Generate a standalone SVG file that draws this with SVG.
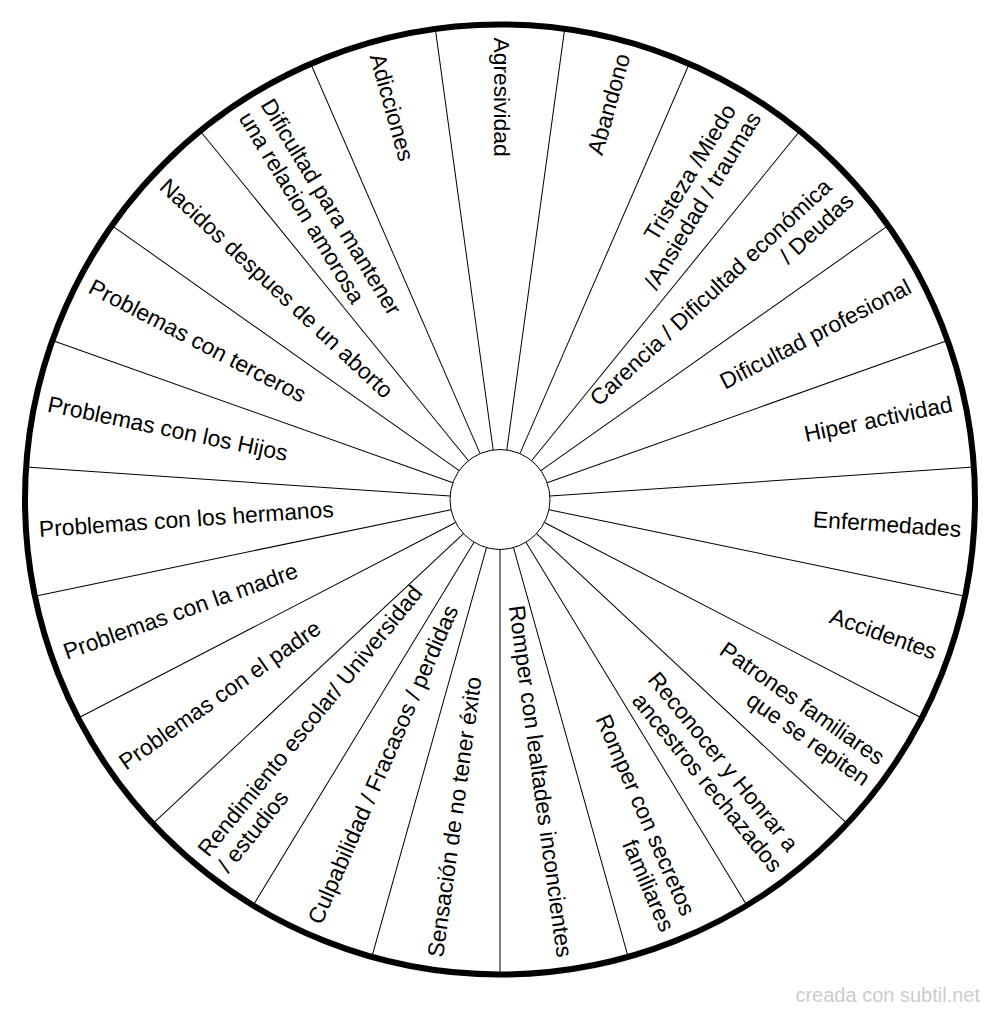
<svg xmlns="http://www.w3.org/2000/svg" width="1000" height="1016" viewBox="0 0 1000 1016">
<style>
.lbl{font-family:"Liberation Sans",Arial,sans-serif;font-size:22.8px;fill:#000}
.r{text-anchor:end}
.l{text-anchor:start}
.sp{stroke:#000;stroke-width:1;fill:none}
.wm{font-family:"Liberation Sans",Arial,sans-serif;font-size:20px;fill:#cccccc;text-anchor:end}
</style>
<rect width="1000" height="1016" fill="#fff"/>
<g id="connectors">
<line class="sp" x1="500" y1="449.5" x2="500" y2="24.5" transform="rotate(7.826 500 499.5)"/>
<line class="sp" x1="500" y1="449.5" x2="500" y2="24.5" transform="rotate(23.478 500 499.5)"/>
<line class="sp" x1="500" y1="449.5" x2="500" y2="24.5" transform="rotate(39.130 500 499.5)"/>
<line class="sp" x1="500" y1="449.5" x2="500" y2="24.5" transform="rotate(54.783 500 499.5)"/>
<line class="sp" x1="500" y1="449.5" x2="500" y2="24.5" transform="rotate(70.435 500 499.5)"/>
<line class="sp" x1="500" y1="449.5" x2="500" y2="24.5" transform="rotate(86.087 500 499.5)"/>
<line class="sp" x1="500" y1="449.5" x2="500" y2="24.5" transform="rotate(101.739 500 499.5)"/>
<line class="sp" x1="500" y1="449.5" x2="500" y2="24.5" transform="rotate(117.391 500 499.5)"/>
<line class="sp" x1="500" y1="449.5" x2="500" y2="24.5" transform="rotate(133.043 500 499.5)"/>
<line class="sp" x1="500" y1="449.5" x2="500" y2="24.5" transform="rotate(148.696 500 499.5)"/>
<line class="sp" x1="500" y1="449.5" x2="500" y2="24.5" transform="rotate(164.348 500 499.5)"/>
<line class="sp" x1="500" y1="449.5" x2="500" y2="24.5" transform="rotate(180 500 499.5)"/>
<line class="sp" x1="500" y1="449.5" x2="500" y2="24.5" transform="rotate(195.652 500 499.5)"/>
<line class="sp" x1="500" y1="449.5" x2="500" y2="24.5" transform="rotate(211.304 500 499.5)"/>
<line class="sp" x1="500" y1="449.5" x2="500" y2="24.5" transform="rotate(226.957 500 499.5)"/>
<line class="sp" x1="500" y1="449.5" x2="500" y2="24.5" transform="rotate(242.609 500 499.5)"/>
<line class="sp" x1="500" y1="449.5" x2="500" y2="24.5" transform="rotate(258.261 500 499.5)"/>
<line class="sp" x1="500" y1="449.5" x2="500" y2="24.5" transform="rotate(273.913 500 499.5)"/>
<line class="sp" x1="500" y1="449.5" x2="500" y2="24.5" transform="rotate(289.565 500 499.5)"/>
<line class="sp" x1="500" y1="449.5" x2="500" y2="24.5" transform="rotate(305.217 500 499.5)"/>
<line class="sp" x1="500" y1="449.5" x2="500" y2="24.5" transform="rotate(320.870 500 499.5)"/>
<line class="sp" x1="500" y1="449.5" x2="500" y2="24.5" transform="rotate(336.522 500 499.5)"/>
<line class="sp" x1="500" y1="449.5" x2="500" y2="24.5" transform="rotate(352.174 500 499.5)"/>
</g>
<g id="wheel">
<circle cx="500" cy="499.5" r="475" fill="none" stroke="#000" stroke-width="6"/>
<circle cx="500" cy="499.5" r="50" fill="#fff" stroke="#000" stroke-width="1"/>
</g>
<g id="n00" transform="translate(500 499.5) rotate(90)"><text class="lbl l" x="-462" y="6">Agresividad</text></g>
<g id="n01" transform="translate(500 499.5) rotate(-74.348)"><text class="lbl r" x="462" y="6">Abandono</text></g>
<g id="n02" transform="translate(500 499.5) rotate(-58.696)"><text class="lbl r" x="455.7" y="0">Tristeza /Miedo</text><text class="lbl r" x="462" y="25.5">/Ansiedad / traumas</text></g>
<g id="n03" transform="translate(500 499.5) rotate(-43.043)"><text class="lbl r" x="455.7" y="0">Carencia / Dificultad económica</text><text class="lbl r" x="462" y="25.5">/ Deudas</text></g>
<g id="n04" transform="translate(500 499.5) rotate(-27.391)"><text class="lbl r" x="462" y="6">Dificultad profesional</text></g>
<g id="n05" transform="translate(500 499.5) rotate(-11.739)"><text class="lbl r" x="462" y="6">Hiper actividad</text></g>
<g id="n06" transform="translate(500 499.5) rotate(3.913)"><text class="lbl r" x="462" y="6">Enfermedades</text></g>
<g id="n07" transform="translate(500 499.5) rotate(19.565)"><text class="lbl r" x="462" y="6">Accidentes</text></g>
<g id="n08" transform="translate(500 499.5) rotate(35.217)"><text class="lbl r" x="462" y="0">Patrones familiares</text><text class="lbl r" x="462" y="25.5">que se repiten</text></g>
<g id="n09" transform="translate(500 499.5) rotate(50.870)"><text class="lbl r" x="455.7" y="0">Reconocer y Honrar a</text><text class="lbl r" x="462" y="25.5">ancestros rechazados</text></g>
<g id="n10" transform="translate(500 499.5) rotate(66.522)"><text class="lbl r" x="455.7" y="0">Romper con secretos</text><text class="lbl r" x="462" y="25.5">familiares</text></g>
<g id="n11" transform="translate(500 499.5) rotate(82.174)"><text class="lbl r" x="462" y="6">Romper con lealtades inconcientes</text></g>
<g id="n12" transform="translate(500 499.5) rotate(-82.174)"><text class="lbl l" x="-462" y="6">Sensación de no tener éxito</text></g>
<g id="n13" transform="translate(500 499.5) rotate(-66.522)"><text class="lbl l" x="-462" y="6">Culpabilidad / Fracasos / perdidas</text></g>
<g id="n14" transform="translate(500 499.5) rotate(-50.870)"><text class="lbl l" x="-462" y="0">Rendimiento escolar/ Universidad</text><text class="lbl l" x="-462" y="25.5">/ estudios</text></g>
<g id="n15" transform="translate(500 499.5) rotate(-35.217)"><text class="lbl l" x="-462" y="6">Problemas con el padre</text></g>
<g id="n16" transform="translate(500 499.5) rotate(-19.565)"><text class="lbl l" x="-462" y="6">Problemas con la madre</text></g>
<g id="n17" transform="translate(500 499.5) rotate(-3.913)"><text class="lbl l" x="-462" y="6">Problemas con los hermanos</text></g>
<g id="n18" transform="translate(500 499.5) rotate(11.739)"><text class="lbl l" x="-462" y="6">Problemas con los Hijos</text></g>
<g id="n19" transform="translate(500 499.5) rotate(27.391)"><text class="lbl l" x="-462" y="6">Problemas con terceros</text></g>
<g id="n20" transform="translate(500 499.5) rotate(43.043)"><text class="lbl l" x="-462" y="6">Nacidos despues de un aborto</text></g>
<g id="n21" transform="translate(500 499.5) rotate(58.696)"><text class="lbl l" x="-462" y="0">Dificultad para mantener</text><text class="lbl l" x="-462" y="25.5">una relacion amorosa</text></g>
<g id="n22" transform="translate(500 499.5) rotate(74.348)"><text class="lbl l" x="-462" y="6">Adicciones</text></g>
<text class="wm" x="980" y="1002">creada con subtil.net</text>
</svg>
